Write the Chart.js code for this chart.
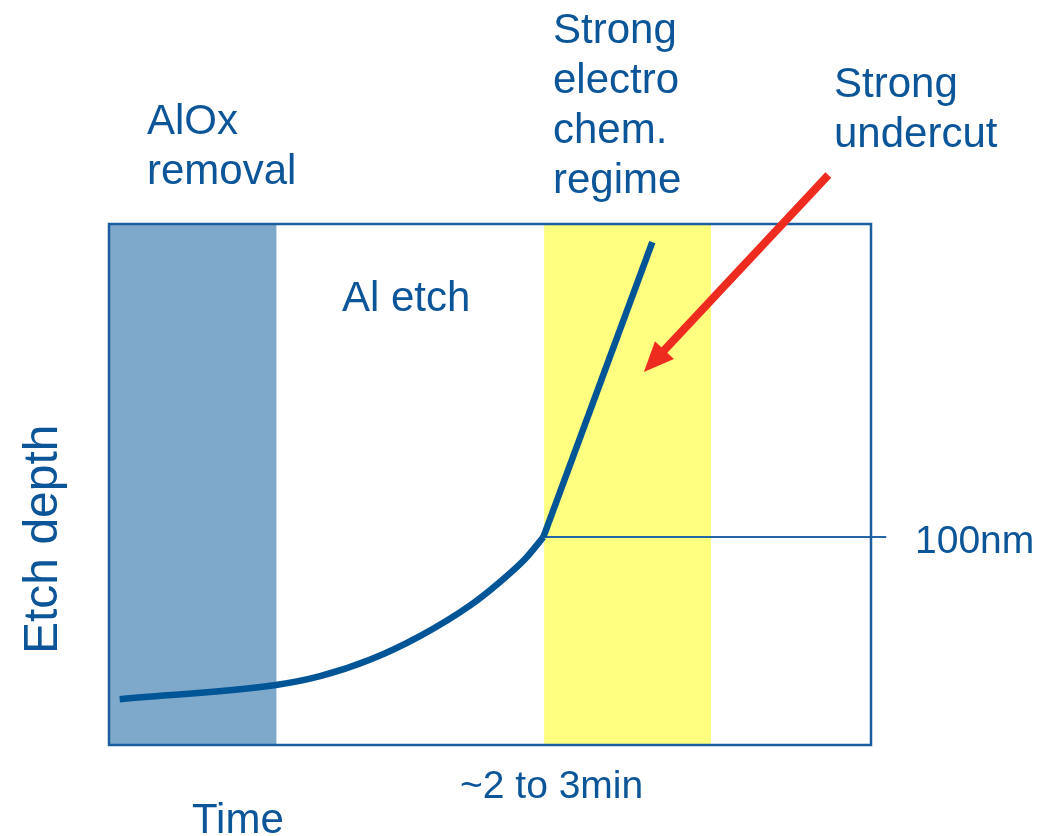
<!DOCTYPE html>
<html>
<head>
<meta charset="utf-8">
<script src="https://cdn.jsdelivr.net/npm/chart.js@4.4.1/dist/chart.umd.min.js"></script>
<style>
  html, body { margin: 0; padding: 0; background: #ffffff; }
  #wrap { width: 1063px; height: 836px; }
</style>
</head>
<body>
<div id="wrap"><canvas id="c" width="1063" height="836"></canvas></div>
<script>
// Etch depth vs. time (arbitrary units, 0–100 on both axes)
const curveTime  = [1.4, 21.9, 27.7, 34.3, 40.8, 47.4, 51.3, 54.6, 57.0];
const curveDepth = [8.8, 11.5, 13.2, 16.4, 20.9, 26.8, 31.3, 35.7, 39.9];

// steep electrochemical segment
const steepTime  = [57.0, 71.3];
const steepDepth = [39.9, 96.5];

// regime bands (time ranges)
const aloxBand   = [0, 22.0];
const chemBand   = [57.1, 79.0];

// 100nm reference level
const refDepth   = 39.9;
const refTime    = [57.0, 102.0];

// arrow pointing into the electrochemical regime
const arrowTime  = [94.4, 70.2];
const arrowDepth = [109.4, 71.6];

// text
const aloxLabel    = ['AlOx', 'removal'];
const chemLabel    = ['Strong', 'electro', 'chem.', 'regime'];
const undercutText = ['Strong', 'undercut'];
const etchLabel    = 'Al etch';
const refLabel     = '100nm';
const timeTick     = '~2 to 3min';
const xTitle       = 'Time';
const yTitle       = 'Etch depth';

const BLUE = '#0B5598';
const FONT = '"Liberation Sans", Arial, sans-serif';

const toPts = (xs, ys) => xs.map((x, i) => ({ x: x, y: ys[i] }));

const decor = {
  id: 'decor',
  afterDatasetsDraw(chart) {
    const { ctx, chartArea: a, scales: { x, y } } = chart;
    ctx.save();
    // plot frame
    ctx.strokeStyle = '#1A5E9F';
    ctx.lineWidth = 2.5;
    ctx.strokeRect(a.left, a.top, a.right - a.left, a.bottom - a.top);

    // red arrow
    const x0 = x.getPixelForValue(arrowTime[0]), y0 = y.getPixelForValue(arrowDepth[0]);
    const x1 = x.getPixelForValue(arrowTime[1]), y1 = y.getPixelForValue(arrowDepth[1]);
    const ang = Math.atan2(y1 - y0, x1 - x0);
    const headLen = 30, headHalf = 13;
    const bx = x1 - headLen * Math.cos(ang), by = y1 - headLen * Math.sin(ang);
    ctx.strokeStyle = '#EE2B1F';
    ctx.fillStyle = '#EE2B1F';
    ctx.lineWidth = 8;
    ctx.beginPath();
    ctx.moveTo(x0, y0);
    ctx.lineTo(bx + 2 * Math.cos(ang), by + 2 * Math.sin(ang));
    ctx.stroke();
    ctx.beginPath();
    ctx.moveTo(x1, y1);
    ctx.lineTo(bx + headHalf * Math.sin(ang), by - headHalf * Math.cos(ang));
    ctx.lineTo(bx - headHalf * Math.sin(ang), by + headHalf * Math.cos(ang));
    ctx.closePath();
    ctx.fill();

    // labels
    ctx.fillStyle = BLUE;
    ctx.textBaseline = 'alphabetic';
    ctx.textAlign = 'left';
    ctx.font = '42px ' + FONT;
    aloxLabel.forEach((t, i) => ctx.fillText(t, 147, 134 + i * 50));
    chemLabel.forEach((t, i) => ctx.fillText(t, 553, 43 + i * 50));
    undercutText.forEach((t, i) => ctx.fillText(t, 834, 97 + i * 50));
    ctx.fillText(etchLabel, 342, 311);
    ctx.fillText(xTitle, 192, 833);
    ctx.font = '39px ' + FONT;
    ctx.fillText(refLabel, 915, 553);
    ctx.fillText(timeTick, 460, 798);

    ctx.font = '48px ' + FONT;
    ctx.translate(57, 654);
    ctx.rotate(-Math.PI / 2);
    ctx.fillText(yTitle, 0, 0);
    ctx.restore();
  }
};

// datasets listed top-most first; the bands come last so they sit underneath
new Chart(document.getElementById('c'), {
  type: 'scatter',
  data: {
    datasets: [
      {
        label: 'Electrochemical etch',
        data: toPts(steepTime, steepDepth),
        showLine: true, borderWidth: 6.5, borderColor: '#005596',
        pointRadius: 0, borderCapStyle: 'butt'
      },
      {
        label: 'Al etch',
        data: toPts(curveTime, curveDepth),
        showLine: true, borderWidth: 6.5, borderColor: '#005596',
        cubicInterpolationMode: 'monotone', pointRadius: 0,
        borderCapStyle: 'butt', borderJoinStyle: 'round'
      },
      {
        label: '100nm',
        data: toPts(refTime, [refDepth, refDepth]),
        showLine: true, borderWidth: 2, borderColor: '#2466A6',
        pointRadius: 0, clip: false
      },
      {
        label: 'Electrochemical regime',
        data: toPts(chemBand, [100, 100]),
        showLine: true, borderWidth: 0, pointRadius: 0,
        backgroundColor: '#FFFF80', fill: 'origin'
      },
      {
        label: 'AlOx removal',
        data: toPts(aloxBand, [100, 100]),
        showLine: true, borderWidth: 0, pointRadius: 0,
        backgroundColor: '#7FA9CB', fill: 'origin'
      }
    ]
  },
  options: {
    responsive: false,
    animation: false,
    layout: { padding: { left: 109, top: 224, right: 192, bottom: 91 } },
    plugins: { legend: { display: false }, tooltip: { enabled: false } },
    scales: {
      x: { type: 'linear', min: 0, max: 100, display: false },
      y: { type: 'linear', min: 0, max: 100, display: false }
    }
  },
  plugins: [decor]
});
</script>
</body>
</html>
